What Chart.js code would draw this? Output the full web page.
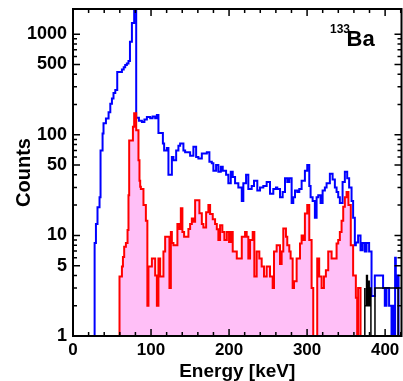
<!DOCTYPE html>
<html>
<head>
<meta charset="utf-8">
<script src="https://cdn.jsdelivr.net/npm/chart.js@4.4.1/dist/chart.umd.min.js"></script>
<style>
  html, body { margin: 0; padding: 0; background: #fff; }
  canvas { display: block; }
</style>
</head>
<body>
<canvas id="spectrum" width="403" height="381"></canvas>
<script>
// 133Ba spectrum, step histograms. Each energy is the left edge of a step,
// the last entry closes the histogram.
const blueEnergy = [27.7, 29.4, 31.4, 34, 35.3, 37.9, 39.1, 42.2, 45.6, 47.8, 49.9, 51.9, 54.2, 56.7, 62.7, 65, 66.9, 69, 71.1, 73, 75.5, 78.4, 81, 84.5,
  88.3, 91.5, 94.7, 98.9, 102, 105.3, 107.5, 109.5, 115.2, 116.8, 120.3, 122.3, 126.7, 128.7, 132.2, 135.1, 137.3, 141.5, 143.7, 150.1, 154.3,
  157.8, 160.7, 165.1, 171.5, 174.8, 177.9, 179.9, 183.4, 186.3, 189.4, 191.9, 196.2, 199.1, 202.2, 204.7, 207.7, 211.9, 216.3, 218.3, 221.8,
  224.7, 229, 232, 236.2, 239.7, 243.9, 248.2, 252.5, 256.7, 260.1, 261.8, 265.3, 268.7, 271.7, 274.6, 277.2, 280.2, 282.3, 284.5, 287.4, 290,
  293, 297.2, 300.2, 302.8, 304.5, 307.1, 310, 312.2, 314.3, 317.3, 319.9, 322.8, 325, 329.2, 332.7, 335.6, 337.8, 339.9, 342, 345.5, 348.4,
  351.4, 353.9, 357, 359, 361.2, 362.5, 365.4, 368.5, 371.1, 374, 376.2, 379.5, 382.6, 386.8, 397.4, 399.6, 401.8, 405.1, 408.2, 410.2, 411.5,
  412.8, 413.7, 415.4, 417.2, 421];
const blueCounts = [3, 8.4, 13, 19, 24, 70, 103, 130, 145, 168, 204, 230, 260, 278, 420, 445, 470, 495, 510, 540, 840, 1290, 2500, 148,
  138, 134, 142, 150, 146, 152, 146, 157, 104, 82, 70, 74, 40, 60, 56, 70, 78, 82, 70, 67, 62,
  76, 60, 58, 65, 67, 54, 52, 44, 50, 43, 48, 44, 40, 33, 43, 38, 33, 30, 22, 33,
  40, 29, 31, 35, 28, 30, 31, 34, 26, 29, 30, 29, 24, 27, 37, 34, 37, 21, 24, 28, 27,
  29, 35, 44, 50, 31, 24, 22, 15, 24, 25, 21, 28, 30, 33, 41, 36, 30, 27, 24, 21, 34,
  43, 37, 30, 22, 15, 8, 8.5, 10, 7.1, 8.4, 6.9, 8.4, 6.9, 2.5, 4, 3, 2, 3, 2, 1, 2,
  1, 6, 3, 4, 1];

const redEnergy = [59.6, 62.7, 64, 65.6, 67.8, 69.9, 71.1, 72, 76.8, 78.4, 81, 83.9, 85.2, 86.1, 87, 90.3, 93.4, 95.3, 96.7, 101.1, 105.3,
  107.5, 109.5, 111.7, 115.9, 118.1, 123.6, 125.4, 126.7, 128.7, 133.8, 136.4, 138.2, 140.2, 142.4, 147.9, 150.1, 152.3, 154.3, 156.5, 162,
  165.1, 167.1, 170.6, 173.5, 175.7, 179.1, 182.1, 184.3, 186.3, 188.5, 191.4, 194, 197.1, 200, 202.2, 204.7, 209.9, 216.3, 220.5, 222.6,
  224.7, 226.9, 230.3, 232.4, 235.4, 238.8, 241.8, 244.8, 248.2, 252.5, 255.9, 257.6, 261, 265.3, 267.4, 269.5, 272.9, 274.6, 277.2, 278.9,
  281.5, 283.2, 286.6, 290.9, 293, 295.1, 297.2, 300.2, 302.8, 305.8, 307.9, 313, 315.5, 318.6, 321.6, 324.1, 327.1, 331.4, 337.8, 339.9,
  342, 344.2, 346.3, 348.4, 350.6, 353, 356, 359, 362.5, 364.2, 365.4, 368.5, 371.1, 374];
const redCounts = [1.95, 3.9, 4.9, 6.1, 7.7, 8.4, 11.3, 25, 88, 120, 164, 111, 56, 35, 30.5, 29, 20, 14, 2, 4.9, 5.9,
  4, 2, 5.9, 3.9, 6.9, 9.7, 3, 10.8, 8.4, 8, 13, 11.6, 18.6, 10.8, 9.7, 11.6, 13, 14.7, 13.7, 22.4,
  16.6, 13, 12, 17, 20, 16.3, 14.5, 13, 11.5, 9, 12.6, 10.8, 9, 10.8, 8.6, 10.8, 6.9, 5.9, 9.7, 10.8,
  9.7, 5.9, 9, 10.8, 3.9, 6.9, 5.9, 4.9, 3.9, 4.9, 3.9, 3, 6.9, 8, 5.2, 6.9, 11.7, 9.7, 8, 6.9,
  5.9, 3, 3.5, 5.9, 8.3, 10, 9, 16.5, 20, 9, 3, 1, 5.9, 3.9, 3, 3.9, 4.5, 6.9, 5.9, 8.3,
  9, 10.8, 14, 19.3, 24, 27, 20, 8, 4, 2.4, 1, 3, 1, 1];

const blackEnergy = [374, 376.2, 377.3, 378.5, 379.6, 380.7, 381.8, 387, 416.6, 418.8, 421];
const blackCounts = [3, 2, 4, 2, 3.5, 2, 3, 1, 3, 1, 1];

const xTicks = [0, 100, 200, 300, 400];
const yTicks = [1, 5, 10, 50, 100, 500, 1000];

function steps(energy, counts) {
  const pts = [{ x: energy[0], y: 1 }];
  energy.forEach((e, i) => pts.push({ x: e, y: counts[i] }));
  return pts;
}

const font = 'Liberation Sans, Arial, Helvetica, sans-serif';

// inward ticks on all four sides plus the box
const frame = {
  id: 'frame',
  afterDatasetsDraw(chart) {
    const { ctx, chartArea: a, scales: { x, y } } = chart;
    ctx.save();
    ctx.strokeStyle = '#000';
    ctx.lineWidth = 1.5;
    ctx.beginPath();
    for (let v = 0; v <= x.max; v += 20) {
      const px = x.getPixelForValue(v);
      const len = v % 100 === 0 ? 7 : 4;
      ctx.moveTo(px, a.bottom); ctx.lineTo(px, a.bottom - len);
      ctx.moveTo(px, a.top); ctx.lineTo(px, a.top + len);
    }
    for (let d = 1; d <= 1000; d *= 10) {
      for (let m = 1; m <= 9; m++) {
        const v = m * d;
        if (v > y.max) break;
        const py = y.getPixelForValue(v);
        const len = (m === 1 || m === 5) ? 7 : 4;
        ctx.moveTo(a.left, py); ctx.lineTo(a.left + len, py);
        ctx.moveTo(a.right, py); ctx.lineTo(a.right - len, py);
      }
    }
    ctx.stroke();
    ctx.lineWidth = 2;
    ctx.strokeRect(a.left, a.top, a.right - a.left, a.bottom - a.top);

    // isotope label
    ctx.fillStyle = '#000';
    ctx.textBaseline = 'alphabetic';
    ctx.textAlign = 'left';
    ctx.font = 'bold 12px ' + font;
    ctx.fillText('133', a.right - 71.5, a.top + 24);
    ctx.font = 'bold 22px ' + font;
    ctx.fillText('Ba', a.right - 55, a.top + 37);
    ctx.restore();
  }
};

new Chart(document.getElementById('spectrum'), {
  type: 'scatter',
  data: {
    datasets: [
      {
        label: 'black',
        data: steps(blackEnergy, blackCounts),
        showLine: true,
        stepped: 'after',
        borderColor: '#000',
        borderWidth: 1.5,
        pointRadius: 0,
        fill: false,
      },
      {
        label: 'red',
        data: steps(redEnergy, redCounts),
        showLine: true,
        stepped: 'after',
        borderColor: '#ff0000',
        borderWidth: 2,
        pointRadius: 0,
        fill: false,
      },
      {
        label: 'blue',
        data: steps(blueEnergy, blueCounts),
        showLine: true,
        stepped: 'after',
        borderColor: '#0000ff',
        borderWidth: 2,
        pointRadius: 0,
        fill: false,
      },
      {
        label: 'red fill',
        data: steps(redEnergy, redCounts),
        showLine: true,
        stepped: 'after',
        borderWidth: 0,
        borderColor: 'rgba(0,0,0,0)',
        backgroundColor: '#ffbff7',
        pointRadius: 0,
        fill: 'start',
      },
    ],
  },
  options: {
    responsive: false,
    animation: false,
    events: [],
    layout: { autoPadding: false, padding: { top: 9, right: 1.5, left: 0, bottom: 0 } },
    plugins: {
      legend: { display: false },
      tooltip: { enabled: false },
    },
    scales: {
      x: {
        type: 'linear',
        min: 0,
        max: 421,
        afterBuildTicks: s => { s.ticks = xTicks.map(v => ({ value: v })); },
        afterFit: s => { s.height = 45; s.paddingLeft = 0; s.paddingRight = 0; },
        grid: { display: false, drawTicks: false },
        border: { display: false },
        ticks: {
          autoSkip: false,
          maxRotation: 0,
          padding: 4,
          color: '#000',
          font: { family: font, size: 17, weight: 'bold' },
          callback: v => String(v),
        },
        title: {
          display: true,
          text: 'Energy [keV]',
          color: '#000',
          font: { family: font, size: 19, weight: 'bold', lineHeight: 1 },
          padding: { top: 0, bottom: 0 },
        },
      },
      y: {
        type: 'logarithmic',
        min: 1,
        max: 1780,
        afterBuildTicks: s => { s.ticks = yTicks.map(v => ({ value: v })); },
        afterFit: s => { s.width = 73; s.paddingTop = 0; s.paddingBottom = 0; },
        grid: { display: false, drawTicks: false },
        border: { display: false },
        ticks: {
          autoSkip: false,
          padding: 6,
          color: '#000',
          font: { family: font, size: 18, weight: 'bold' },
          callback: v => String(v),
        },
        title: {
          display: true,
          text: 'Counts',
          color: '#000',
          font: { family: font, size: 20, weight: 'bold' },
          padding: { top: 12, bottom: 0 },
        },
      },
    },
  },
  plugins: [frame],
});
</script>
</body>
</html>
